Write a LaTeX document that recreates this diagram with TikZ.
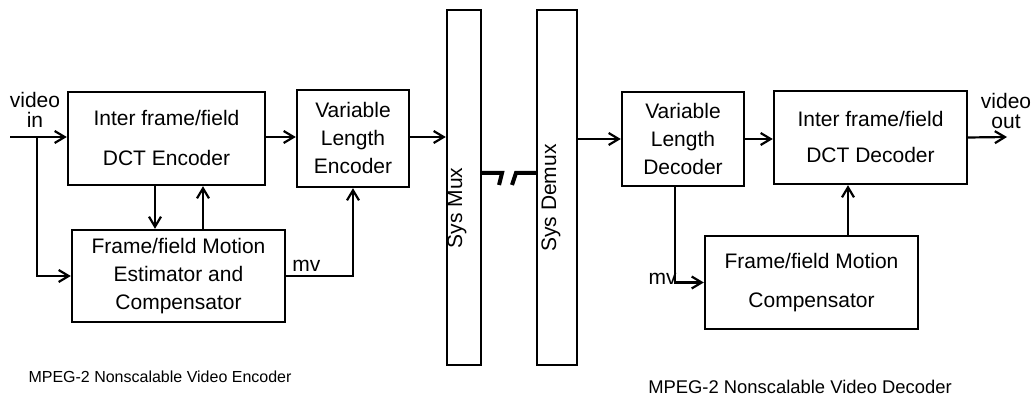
\documentclass[tikz,border=0pt]{standalone}
\usepackage{fontspec}
\setmainfont{Liberation Sans}
\usetikzlibrary{arrows.meta}
\tikzset{
  block_node/.style = {draw=black, line width=1.2pt, inner sep=0pt,
    align=center, font=\fontsize{10.5}{14}\selectfont},% bloc de traitement
  bar_node/.style = {draw=black, line width=1.2pt, inner sep=0pt,
    minimum height=177.5pt},% barre mux / demux
  label_text/.style = {inner sep=0pt, align=center,
    font=\fontsize{10.5}{10}\selectfont},% texte libre
  flow/.style = {line width=1.1pt,
    -{Straight Barb[length=5pt,width=6pt]}},% fleche de donnees
  break_line/.style = {line width=2pt}% liaison interrompue
}

\begin{document}
\begin{tikzpicture}[x=0.5pt, y=-0.5pt]
      \useasboundingbox (0,0) rectangle (1032,399);
      % encodeur
      \node [block_node, minimum width=98.5pt, minimum height=46.5pt] (enc) at (166.5,138.5)
          {Inter frame/field\\[6pt] DCT Encoder};
      \node [block_node, minimum width=106.5pt, minimum height=46pt] (me) at (178.5,276)
          {Frame/field Motion\\ Estimator and\\ Compensator};
      \node [block_node, minimum width=56pt, minimum height=48.5pt] (vle) at (353,138.5)
          {Variable\\ Length\\ Encoder};
      % multiplexage
      \node [bar_node, minimum width=17pt] (mux) at (464,187.5) {};
      \node [bar_node, minimum width=20pt] (demux) at (557,187.5) {};
      \node [label_text, rotate=90] (mux_label) at (457,208) {Sys Mux};
      \node [label_text, rotate=90] (demux_label) at (551,198) {Sys Demux};
      % decodeur
      \node [block_node, minimum width=61pt, minimum height=47pt] (vld) at (683,139)
          {Variable\\ Length\\ Decoder};
      \node [block_node, minimum width=96.5pt, minimum height=46.5pt] (dec) at (870.5,137.5)
          {Inter frame/field\\[4pt] DCT Decoder};
      \node [block_node, minimum width=106.5pt, minimum height=46.5pt] (mc) at (811.5,282.5)
          {Frame/field Motion\\[5.5pt] Compensator};
      % textes
      \node [label_text] (vid_in) at (35,110) {video\\ in};
      \node [label_text] (vid_out) at (1006,111) {video\\ out};
      \node [label_text, anchor=base west] (mv_enc) at (292,272) {mv};
      \node [label_text, anchor=base east] (mv_dec) at (677,285) {mv};
      \node [inner sep=0pt, font=\fontsize{8}{10}\selectfont] (enc_caption) at (160,377)
          {MPEG-2 Nonscalable Video Encoder};
      \node [inner sep=0pt, font=\fontsize{9.2}{11}\selectfont] (dec_caption) at (800,387)
          {MPEG-2 Nonscalable Video Decoder};
      % liaisons
      \coordinate (in_start) at (10,137);
      \coordinate (split) at (37,137);
      \coordinate (out_end) at (1007,137);
      \coordinate (brk) at (0,173);
      \draw [flow] (in_start) -- (in_start -| enc.west);
      \draw [flow] (split) |- (me.west);
      \draw [flow] ([xshift=-5.75pt]enc.south) -- ([xshift=-5.75pt]enc.south |- me.north);
      \draw [flow] ([xshift=18.25pt]enc.south |- me.north) -- ([xshift=18.25pt]enc.south);
      \draw [flow] (enc.east |- in_start) -- (vle.west |- in_start);
      \draw [flow] (vle.east |- in_start) -- (mux.west |- in_start);
      \draw [flow] (me.east) -| (vle.south);
      \draw [break_line] (brk -| mux.east) -- (502,173) -- (499,185);
      \draw [break_line] (512,185) -- (516,173) -- (brk -| demux.west);
      \draw [flow] (demux.east |- vld.west) -- (vld.west);
      \draw [flow] (vld.east) -- (vld.east -| dec.west);
      \draw [flow] (dec.east) -- (out_end);
      \draw [flow] ([xshift=-4pt]vld.south) |- (mc.west);
      \draw [flow] ([xshift=18.25pt]mc.north) -- ([xshift=18.25pt]mc.north |- dec.south);
\end{tikzpicture}
\end{document}
